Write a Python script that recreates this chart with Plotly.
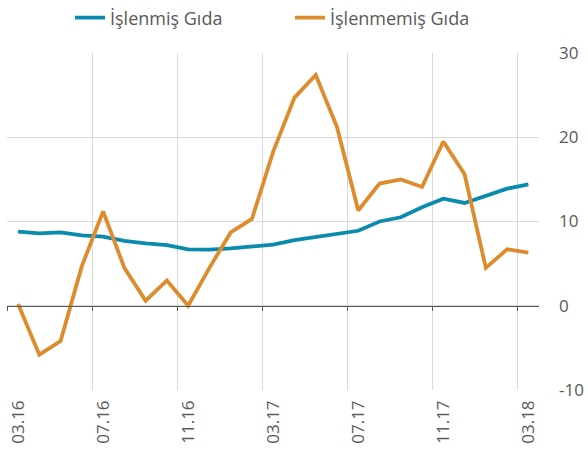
import plotly.graph_objects as go

months = ["03.16", "04.16", "05.16", "06.16", "07.16", "08.16", "09.16", "10.16",
          "11.16", "12.16", "01.17", "02.17", "03.17", "04.17", "05.17", "06.17",
          "07.17", "08.17", "09.17", "10.17", "11.17", "12.17", "01.18", "02.18", "03.18"]

islenmis = [8.8, 8.6, 8.7, 8.35, 8.2, 7.7, 7.4, 7.2, 6.7, 6.65, 6.8, 7.0, 7.25,
            7.8, 8.2, 8.5, 8.9, 10.0, 10.5, 11.7, 12.7, 12.2, 13.1, 13.9, 14.4]

islenmemis = [0.2, -5.8, -4.2, 4.7, 11.2, 4.5, 0.6, 3.0, 0.0, 4.5, 8.7, 10.3, 18.3,
              24.7, 27.4, 21.2, 11.3, 14.5, 15.0, 14.1, 19.5, 15.6, 4.5, 6.7, 6.3]

y_ticks = [-10, 0, 10, 20, 30]
y_ticktext = ["-10", "0", "10", "20", "30"]

idx = list(range(len(months)))
label_idx = idx[::4]
boundaries = [i - 0.5 for i in label_idx]

font_family = "Open Sans, Noto Sans, sans-serif"
gray = "#595959"
W, H = 588, 458
x_range = [-0.52, len(months) - 0.5]

fig = go.Figure()
fig.add_trace(go.Scatter(x=idx, y=islenmis, mode="lines", name="İşlenmiş Gıda",
                         line=dict(color="#0a8bae", width=3.8), legend="legend"))
fig.add_trace(go.Scatter(x=idx, y=islenmemis, mode="lines", name="İşlenmemiş Gıda",
                         line=dict(color="#dc8c2c", width=3.8), legend="legend2"))
# invisible trace on xaxis2 to activate it
fig.add_trace(go.Scatter(x=[idx[0]], y=[None], xaxis="x2", showlegend=False,
                         hoverinfo="skip"))

legend_common = dict(orientation="h", yanchor="middle", xanchor="left",
                     xref="container", yref="container",
                     font=dict(size=18, color=gray), bgcolor="rgba(0,0,0,0)")

fig.update_layout(
    width=W, height=H,
    margin=dict(l=7, r=49, t=53, b=68, autoexpand=False),
    paper_bgcolor="white", plot_bgcolor="white",
    font=dict(family=font_family, size=17, color=gray),
    showlegend=True,
    legend=dict(x=70 / W, y=1 - 18 / H, **legend_common),
    legend2=dict(x=290 / W, y=1 - 18 / H, **legend_common),
    xaxis=dict(range=x_range, tickmode="array",
               tickvals=label_idx, ticktext=[months[i] for i in label_idx],
               tickangle=-90, showgrid=False, zeroline=False, showline=False,
               ticks="", automargin=False, ticklabelstandoff=6,
               tickfont=dict(size=17, color=gray)),
    xaxis2=dict(overlaying="x", anchor="free", position=0.25,
                range=x_range, tickmode="array",
                tickvals=boundaries, showticklabels=False,
                showgrid=True, gridcolor="#d9d9d9", gridwidth=1,
                showline=True, linecolor="#595959", linewidth=1,
                ticks="outside", ticklen=4, tickcolor="#595959", tickwidth=1,
                zeroline=False, automargin=False),
    yaxis=dict(range=[-10, 30], tickmode="array", tickvals=y_ticks,
               ticktext=y_ticktext, side="right",
               showgrid=True, gridcolor="#d9d9d9", gridwidth=1,
               zeroline=False, showline=False, ticks="", automargin=False,
               ticklabelstandoff=19,
               tickfont=dict(size=17, color=gray)),
)

fig.write_html("out.html",
               config={"displayModeBar": False},
               post_script="document.body.style.margin='0';document.body.style.overflow='hidden';")
